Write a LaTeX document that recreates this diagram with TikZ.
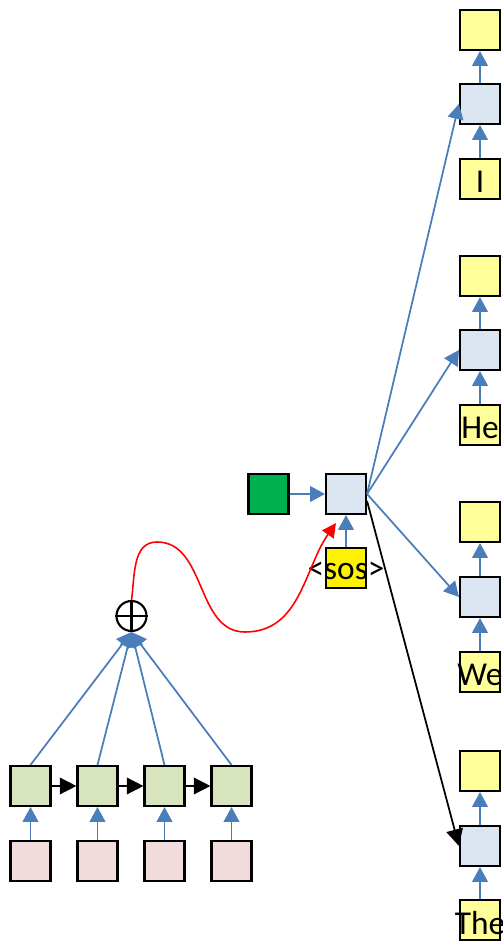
\documentclass[tikz,border=0pt]{standalone}
\usepackage{fontspec}
\setmainfont{Carlito}
\usetikzlibrary{positioning,arrows.meta}

\definecolor{inpink}{HTML}{F2DCDB}
\definecolor{encgreen}{HTML}{D7E4BD}
\definecolor{decblue}{HTML}{DCE6F2}
\definecolor{wordyellow}{HTML}{FFFF99}
\definecolor{ctxgreen}{HTML}{00B050}
\definecolor{linkblue}{HTML}{4A7EBB}

\begin{document}
\begin{tikzpicture}[
        box/.style={draw,line width=1.2pt,minimum size=0.8cm,inner sep=0pt},
        word/.style={box,fill=wordyellow,label={[font=\fontsize{19}{22}\selectfont,yshift=-1.5pt]center:#1}},
        link/.style={draw=linkblue,line width=1pt,-{Triangle[width=9pt,length=8.5pt]}},
        step link/.style={draw=black,line width=0.8pt,-{Triangle[width=9.5pt,length=9.5pt]}}
    ]
        \useasboundingbox (0,0) rectangle (10.04,18.84);

        % Encoder: inputs and hidden states
        \node[box,fill=inpink] (x1) at (0.61,1.62) {};
        \node[box,fill=inpink] (x2) at (1.95,1.62) {};
        \node[box,fill=inpink] (x3) at (3.29,1.62) {};
        \node[box,fill=inpink] (x4) at (4.63,1.62) {};

        \node[box,fill=encgreen] (h1) at (0.61,3.12) {};
        \node[box,fill=encgreen] (h2) at (1.95,3.12) {};
        \node[box,fill=encgreen] (h3) at (3.29,3.12) {};
        \node[box,fill=encgreen] (h4) at (4.63,3.12) {};

        \draw[link] (x1) -- (h1);
        \draw[link] (x2) -- (h2);
        \draw[link] (x3) -- (h3);
        \draw[link] (x4) -- (h4);
        \draw[step link] (h1) -- (h2);
        \draw[step link] (h2) -- (h3);
        \draw[step link] (h3) -- (h4);

        % Sum of hidden states
        \node[circle,draw,line width=1.2pt,minimum size=0.6cm,inner sep=0pt] (sum) at (2.63,6.52) {};
        \draw[line width=1.2pt] (sum.north) -- (sum.south) (sum.west) -- (sum.east);
        \draw[link] (h1.north) -- (sum.south);
        \draw[link] (h2.north) -- (sum.south);
        \draw[link] (h3.north) -- (sum.south);
        \draw[link] (h4.north) -- (sum.south);

        % First decoder step
        \node[box,fill=ctxgreen] (z) at (5.37,8.96) {};
        \node[box,fill=decblue] (d0) at (6.92,8.96) {};
        \node[word={<sos>},fill=yellow] (sos) at (6.92,7.48) {};
        \draw[link] (z) -- (d0);
        \draw[link] (sos) -- (d0);
        \draw[red,line width=0.9pt,-{Triangle[width=8pt,length=8pt]}] (sum.north)
            to[out=82,in=180] (3.14,8.0) to[out=0,in=180] (4.9,6.2)
            to[out=0,in=235] ([xshift=0.22cm,yshift=-0.16cm]d0.south west);

        % Candidate next steps
        \node[box,fill=wordyellow] (o1) at (9.6,18.24) {};
        \node[box,fill=decblue] (d1) at (9.6,16.76) {};
        \node[word=I] (w1) at (9.6,15.26) {};

        \node[box,fill=wordyellow] (o2) at (9.6,13.32) {};
        \node[box,fill=decblue] (d2) at (9.6,11.84) {};
        \node[word=He] (w2) at (9.6,10.34) {};

        \node[box,fill=wordyellow] (o3) at (9.6,8.40) {};
        \node[box,fill=decblue] (d3) at (9.6,6.90) {};
        \node[word=We] (w3) at (9.6,5.40) {};

        \node[box,fill=wordyellow] (o4) at (9.6,3.42) {};
        \node[box,fill=decblue] (d4) at (9.6,1.92) {};
        \node[word=The] (w4) at (9.6,0.44) {};

        \draw[link] (w1) -- (d1);
        \draw[link] (d1) -- (o1);
        \draw[link] (w2) -- (d2);
        \draw[link] (d2) -- (o2);
        \draw[link] (w3) -- (d3);
        \draw[link] (d3) -- (o3);
        \draw[link] (w4) -- (d4);
        \draw[link] (d4) -- (o4);

        % Branches from the first step
        \draw[link] (d0.east) -- (d1.west);
        \draw[link] (d0.east) -- (d2.west);
        \draw[link] (d0.east) -- (d3.west);
        \draw[step link,line width=1pt] ([yshift=-4pt]d0.east) -- (d4.west);
    \end{tikzpicture}
\end{document}
